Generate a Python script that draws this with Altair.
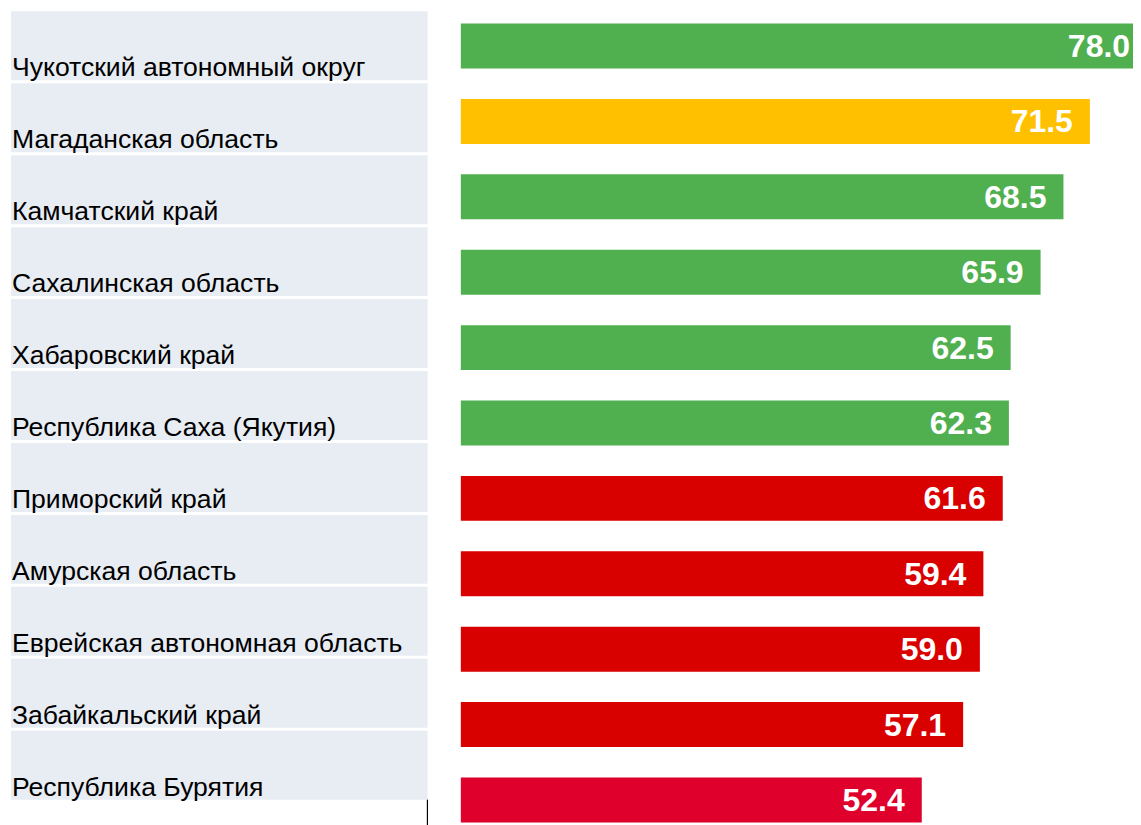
import altair as alt
import pandas as pd

regions = [
    "Чукотский автономный округ",
    "Магаданская область",
    "Камчатский край",
    "Сахалинская область",
    "Хабаровский край",
    "Республика Саха (Якутия)",
    "Приморский край",
    "Амурская область",
    "Еврейская автономная область",
    "Забайкальский край",
    "Республика Бурятия",
]
values = [78.0, 71.5, 68.5, 65.9, 62.5, 62.3, 61.6, 59.4, 59.0, 57.1, 52.4]
groups = ["green", "yellow", "green", "green", "green", "green",
          "red", "red", "red", "red", "crimson"]

group_domain = ["green", "yellow", "red", "crimson"]
group_colors = ["#50B050", "#FFC000", "#D90000", "#E0002C"]

df = pd.DataFrame({"region": regions, "value": values, "group": groups})
df["label"] = df["value"].map(lambda v: f"{v:.1f}")

FONT = "Liberation Sans"

# ---- left panel: table of region names ----
cell_scale = alt.Scale(paddingInner=0.0417, paddingOuter=0.0417)
cells = alt.Chart(df).mark_rect(color="#E8ECF3").encode(
    y=alt.Y("region:N", sort=regions, axis=None, scale=cell_scale)
)
names = alt.Chart(df).mark_text(
    align="left", baseline="alphabetic", dy=-4, fontSize=26.6, font=FONT, color="#000000"
).encode(
    y=alt.Y("region:N", sort=regions, axis=None, bandPosition=1, scale=cell_scale),
    x=alt.value(1),
    text="region:N",
)
# vertical divider line, visible below the table
divider = alt.Chart(df).transform_filter(
    alt.datum.region == regions[-1]
).mark_rule(color="#000000", strokeWidth=1.2).encode(
    y=alt.Y("region:N", sort=regions, axis=None, bandPosition=1, scale=cell_scale),
    y2=alt.value(830),
    x=alt.value(416.8),
)
left = alt.layer(cells, names, divider).properties(width=417, height=795)

# ---- right panel: bars ----
ybars = alt.Y("region:N", sort=regions, title=None, axis=None,
              scale=alt.Scale(paddingInner=0.404, paddingOuter=0.202))
xbars = alt.X("value:Q", axis=None, scale=alt.Scale(domain=[0, 76.4], nice=False, zero=True))
bars = alt.Chart(df).mark_bar(clip=True).encode(
    y=ybars, x=xbars,
    color=alt.Color("group:N", scale=alt.Scale(domain=group_domain, range=group_colors), legend=None),
)
vals = alt.Chart(df).mark_text(
    align="right", baseline="middle", dx=-17, dy=1, fontSize=32, fontWeight="bold",
    font=FONT, color="#FFFFFF"
).encode(y=ybars, x=xbars, text="label:N")
right = alt.layer(bars, vals).properties(width=673, height=830)

chart = alt.hconcat(left, right, spacing=32).properties(
    padding={"left": 3, "top": 0, "right": 0, "bottom": 0},
    background="#FFFFFF",
).configure_view(stroke=None)

chart.save("out.html", embed_options={"renderer": "svg", "actions": False})
